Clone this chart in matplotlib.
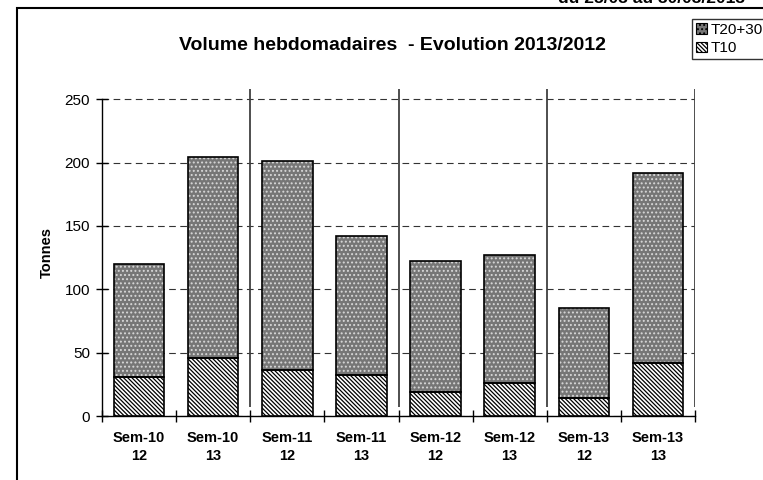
import numpy as np
import matplotlib
matplotlib.use("Agg")
import matplotlib.pyplot as plt
from matplotlib.patches import Rectangle, Patch

plt.rcParams['font.family'] = ['Liberation Sans', 'DejaVu Sans']
plt.rcParams['hatch.linewidth'] = 0.9

# ========== DATA ==========
weeks = ["Sem-10", "Sem-10", "Sem-11", "Sem-11", "Sem-12", "Sem-12", "Sem-13", "Sem-13"]
years = ["12", "13", "12", "13", "12", "13", "12", "13"]
t10 = [31, 46, 36, 32, 19, 26, 14, 42]
t20_30 = [89, 158, 165, 110, 103, 101, 71, 150]   # stacked on top of T10
y_ticks = [0, 50, 100, 150, 200, 250]

TITLE = "Volume hebdomadaires  - Evolution 2013/2012"
PERIOD = "du 25/03 au 30/03/2013"

HATCH_T10 = '\\' * 8
HATCH_T20 = '....'

W, H = 763, 480
fig = plt.figure(figsize=(W / 100, H / 100), dpi=100)
ax = fig.add_axes([102 / W, 1 - 416 / H, (695 - 102) / W, (416 - 89) / H])

x = np.arange(len(weeks))
bw = 0.68

# T10 : white with black diagonal hatching
ax.bar(x, t10, bw, color='white', edgecolor='black', hatch=HATCH_T10, lw=0, zorder=3)
ax.bar(x, t10, bw, fill=False, edgecolor='black', lw=1.2, zorder=4)
# T20+30 : gray with white dots
ax.bar(x, t20_30, bw, bottom=t10, color='#767676', edgecolor='#d8d8d8', hatch=HATCH_T20, lw=0, zorder=3)
ax.bar(x, t20_30, bw, bottom=t10, fill=False, edgecolor='black', lw=1.2, zorder=4)

ax.set_xlim(-0.5, len(weeks) - 0.5)
ax.set_ylim(0, 258)

# separators between weeks
ax.vlines(np.arange(1.5, len(weeks), 2), 7, 258, color='#404040', lw=1.3, zorder=2)

# grid
ax.set_yticks(y_ticks)
ax.set_yticklabels([str(v) for v in y_ticks], fontsize=11)
ax.grid(axis='y', color='#333333', lw=0.8, ls=(0, (6, 4)), zorder=1)

ax.set_xticks(np.arange(-0.5, len(weeks), 1))
ax.set_xticklabels([])
ax.set_xticks(x, minor=True)
ax.set_xticklabels([f"{w}\n{y}" for w, y in zip(weeks, years)], minor=True,
                   fontsize=10.5, fontweight='bold', linespacing=1.35)
ax.tick_params(axis='x', which='minor', length=0, pad=11)
ax.tick_params(axis='x', which='major', direction='inout', length=9, width=1)
ax.tick_params(axis='y', direction='inout', length=9, width=1, pad=4)

for s in ['top', 'right']:
    ax.spines[s].set_visible(False)
ax.spines['left'].set_bounds(0, 250)
ax.spines['left'].set_linewidth(1)
ax.spines['bottom'].set_linewidth(1)

ax.set_ylabel("Tonnes", fontsize=10.5, fontweight='bold', labelpad=8)

fig.text(392 / W, 1 - 45 / H, TITLE, ha='center', va='center', fontsize=14, fontweight='bold')
fig.text(745 / W, 1 - 3 / H, PERIOD, ha='right', va='baseline', fontsize=12.5, fontweight='bold')

# outer frame
fig.add_artist(Rectangle((17 / W, -0.1), 1.2, 1 - 8 / H + 0.1, transform=fig.transFigure,
                         fill=False, edgecolor='black', lw=1.5))

handles = [Patch(facecolor='#767676', edgecolor='black', hatch=HATCH_T20, lw=0.8, label='T20+30'),
           Patch(facecolor='white', edgecolor='black', hatch=HATCH_T10, lw=0.8, label='T10')]
leg = fig.legend(handles=handles, loc='upper left', bbox_to_anchor=(692 / W, 1 - 19 / H),
                 fontsize=11, frameon=True, fancybox=False, edgecolor='black',
                 handlelength=0.7, handleheight=0.7, handletextpad=0.3,
                 borderpad=0.25, labelspacing=0.3, borderaxespad=0)
leg.get_frame().set_linewidth(1)

plt.savefig("out.png", dpi=100)
